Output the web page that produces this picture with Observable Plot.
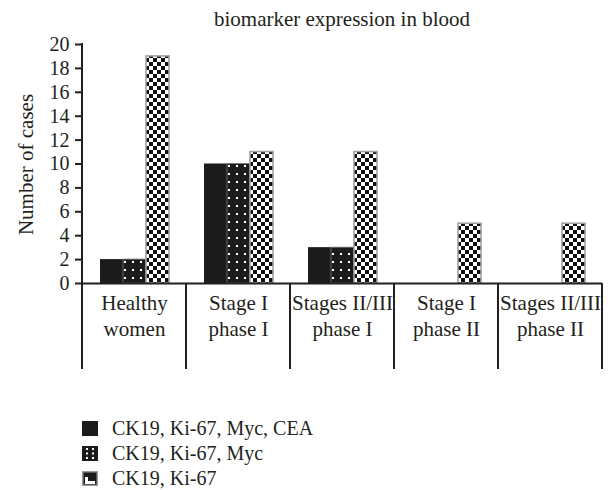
<!DOCTYPE html>
<html><head><meta charset="utf-8">
<script src="https://cdn.jsdelivr.net/npm/d3@7"></script>
<script src="https://cdn.jsdelivr.net/npm/@observablehq/plot@0.6"></script>
<style>
body{margin:0;background:#fff;color:#231f20;}
#wrap{position:relative;width:608px;height:490px;overflow:hidden;background:#fff;font-family:'Liberation Serif',serif;}
#title{position:absolute;left:81px;width:522px;top:9px;font-size:21px;line-height:21px;text-align:center;white-space:nowrap;}
#chart{position:absolute;left:0;top:34px;}
#legend{position:absolute;left:82px;top:416px;font-size:20px;}
.row{display:flex;align-items:center;height:25px;white-space:nowrap;}
.row svg{margin-right:14px;flex:none;}
</style></head>
<body>
<svg width="0" height="0" style="position:absolute">
<defs>
<pattern id="dotFill" patternUnits="userSpaceOnUse" width="8" height="8"><rect width="8" height="8" fill="#1b1b1b"/><rect x="3" y="3" width="2" height="2" fill="#fff"/></pattern>
<pattern id="checkFill" patternUnits="userSpaceOnUse" width="8" height="8"><rect width="8" height="8" fill="#fff"/><rect width="4" height="4" fill="#111"/><rect x="4" y="4" width="4" height="4" fill="#111"/></pattern>
</defs></svg>
<div id="wrap">
<div id="title"></div>
<div id="chart"></div>
<div id="legend"></div>
</div>
<script>
const titleText = "biomarker expression in blood";
const yLabel = "Number of cases";
const categories = ["Healthy women", "Stage I phase I", "Stages II/III phase I", "Stage I phase II", "Stages II/III phase II"];
const categoryLabels = ["Healthy\nwomen", "Stage I\nphase I", "Stages II/III\nphase I", "Stage I\nphase II", "Stages II/III\nphase II"];
const series = ["CK19, Ki-67, Myc, CEA", "CK19, Ki-67, Myc", "CK19, Ki-67"];
const valuesCEA = [2, 10, 3, 0, 0];
const valuesMyc = [2, 10, 3, 0, 0];
const valuesKi67 = [19, 11, 11, 5, 5];
const yTicks = [0, 2, 4, 6, 8, 10, 12, 14, 16, 18, 20];

const FONT = "Liberation Serif";
const seriesValues = [valuesCEA, valuesMyc, valuesKi67];
const fills = ["#1b1b1b", "url(#dotFill)", "url(#checkFill)"];
const strokes = ["none", "#777", "#a0a0a0"];
const strokeWidths = [0, 0.8, 1.6];
const data = categories.flatMap((c, i) => series.map((s, j) => ({category: c, series: s, value: seriesValues[j][i]})));
const labelOf = Object.fromEntries(categories.map((c, i) => [c, categoryLabels[i]]));

document.getElementById("title").textContent = titleText;

const ink = "#231f20";
const chart = Plot.plot({
  width: 608,
  height: 340,
  marginTop: 10,
  marginBottom: 91,
  marginLeft: 81,
  marginRight: 5,
  style: {fontFamily: FONT, fontSize: "20px", color: ink, background: "white"},
  fx: {domain: categories, padding: 0, label: null},
  x: {domain: series, paddingInner: 0, paddingOuter: 0.74, axis: null},
  y: {domain: [0, 20], label: null},
  marks: [
    ...series.map((s, j) => Plot.barY(data.filter(d => d.series === s && d.value > 0), {
      fx: "category", x: "series", y: "value",
      fill: fills[j], stroke: strokes[j], strokeWidth: strokeWidths[j]
    })),
    Plot.ruleY([0], {stroke: ink, strokeWidth: 2}),
    Plot.axisY({ticks: yTicks, tickSize: 7, tickPadding: 6, label: null, stroke: ink, strokeWidth: 2, fill: ink, fontFamily: FONT}),
    Plot.axisFx({anchor: "bottom", tickSize: 0, tickPadding: 8, label: null, tickFormat: d => labelOf[d], lineHeight: 1.25, fontSize: 21, fill: ink, fontFamily: FONT})
  ]
});
document.getElementById("chart").appendChild(chart);

const fx = chart.scale("fx"), y = chart.scale("y");
const y0 = y.apply(0), yTop = y.apply(20), yBottom = y0 + 86;
const bounds = categories.map(c => fx.apply(c));
bounds.push(fx.apply(categories[categories.length - 1]) + fx.bandwidth);
const g = d3.select(chart).append("g").attr("stroke", ink).attr("stroke-width", 2).attr("fill", "none");
bounds.forEach((b, i) => {
  g.append("line").attr("x1", b).attr("x2", b).attr("y1", i === 0 ? yTop - 1 : y0).attr("y2", yBottom);
});
d3.select(chart).append("text")
  .attr("transform", `translate(33,${(yTop + y0) / 2 + 1}) rotate(-90)`)
  .attr("text-anchor", "middle")
  .attr("fill", ink)
  .style("font-size", "21px")
  .style("font-family", FONT)
  .text(yLabel);

const legend = d3.select("#legend");
series.forEach((s, j) => {
  const row = legend.append("div").attr("class", "row");
  const sw = row.append("svg").attr("width", 16).attr("height", 15);
  if (j === 0) {
    sw.append("rect").attr("width", 16).attr("height", 15).attr("fill", "#1b1b1b");
  } else if (j === 1) {
    sw.append("rect").attr("width", 16).attr("height", 15).attr("fill", "#1b1b1b");
    [[4, 2], [10, 2], [4, 6.5], [10, 6.5], [4, 11], [10, 11]].forEach(([cx, cy]) =>
      sw.append("rect").attr("x", cx).attr("y", cy).attr("width", 2).attr("height", 2).attr("fill", "#fff"));
  } else {
    sw.append("rect").attr("x", 0.75).attr("y", 0.75).attr("width", 14.5).attr("height", 13.5).attr("fill", "#1b1b1b").attr("stroke", "#9a9a9a").attr("stroke-width", 1.5);
    sw.append("path").attr("d", "M3,6 h3 v4 h7 v3 h-10 z").attr("fill", "#fff");
  }
  row.append("span").text(s);
});
</script>
</body></html>
